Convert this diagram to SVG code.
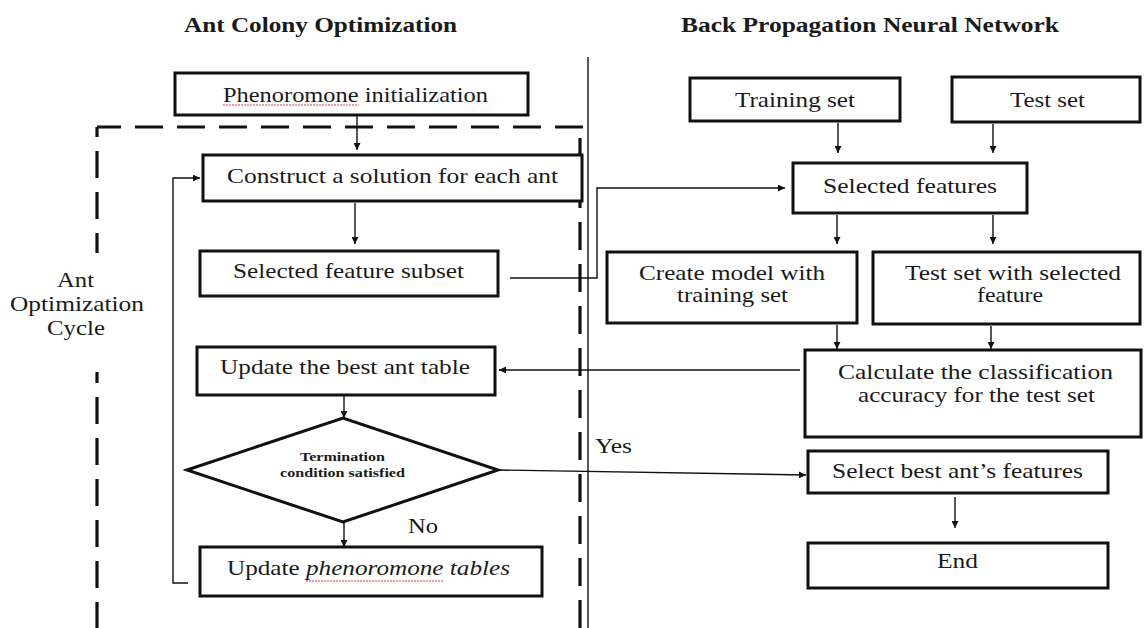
<svg xmlns="http://www.w3.org/2000/svg" width="1144" height="628" viewBox="0 0 1144 628">
<style>
text{font-family:"Liberation Serif","Times New Roman",Tinos,Times,serif;fill:#1a1a1a;}
.t{font-size:21px;}
.h{font-size:21px;font-weight:bold;}
.d{font-size:13px;font-weight:bold;}
.box{fill:#fff;stroke:#111;stroke-width:3;}
.c{fill:none;stroke:#111;stroke-width:1.4;}
.dash{fill:none;stroke:#111;stroke-width:3.2;}
.sp{stroke:#d04040;stroke-width:1.2;stroke-dasharray:2 1;fill:none;}
</style>
<defs>
<marker id="ah" viewBox="0 0 10 10" refX="10" refY="5" markerWidth="9" markerHeight="7" markerUnits="userSpaceOnUse" orient="auto">
<path d="M0,0 L10,5 L0,10 z" fill="#111"/>
</marker>
</defs>
<rect width="1144" height="628" fill="#fff"/>

<g id="titles">
<text class="h" x="184" y="32" textLength="273" lengthAdjust="spacingAndGlyphs">Ant Colony Optimization</text>
<text class="h" x="681" y="32" textLength="378" lengthAdjust="spacingAndGlyphs">Back Propagation Neural Network</text>
</g>

<g id="frame">
<line x1="588" y1="57" x2="588" y2="628" stroke="#444" stroke-width="1.8"/>
<path class="dash" d="M583,127 H97" stroke-dasharray="28 14"/>
<path class="dash" d="M97,127 V628" stroke-dasharray="27 14" stroke-dashoffset="17"/>
<path class="dash" d="M580,127 V628" stroke-dasharray="28 14" stroke-dashoffset="31"/>
</g>

<g id="cycle-label">
<rect x="86" y="253" width="22" height="119" fill="#fff"/>
<text class="t" x="57" y="287" textLength="37" lengthAdjust="spacingAndGlyphs">Ant</text>
<text class="t" x="10" y="311" textLength="134" lengthAdjust="spacingAndGlyphs">Optimization</text>
<text class="t" x="47" y="335" textLength="58" lengthAdjust="spacingAndGlyphs">Cycle</text>
</g>

<g id="connectors">
<line class="c" x1="357" y1="116" x2="357" y2="150" marker-end="url(#ah)"/>
<line class="c" x1="355" y1="203" x2="355" y2="244" marker-end="url(#ah)"/>
<path class="c" d="M510,278 H597 V188 H785" marker-end="url(#ah)"/>
<line class="c" x1="344" y1="396" x2="344" y2="418" marker-end="url(#ah)"/>
<line class="c" x1="344" y1="522" x2="344" y2="547" marker-end="url(#ah)"/>
<path class="c" d="M188,583 H173 V178 H200" marker-end="url(#ah)"/>
<line class="c" x1="838" y1="123" x2="838" y2="153" marker-end="url(#ah)"/>
<line class="c" x1="993" y1="124" x2="993" y2="153" marker-end="url(#ah)"/>
<line class="c" x1="837" y1="215" x2="837" y2="244" marker-end="url(#ah)"/>
<line class="c" x1="993" y1="215" x2="993" y2="244" marker-end="url(#ah)"/>
<line class="c" x1="837" y1="325" x2="837" y2="349" marker-end="url(#ah)"/>
<line class="c" x1="991" y1="326" x2="991" y2="349" marker-end="url(#ah)"/>
<line class="c" x1="800" y1="370" x2="499" y2="370" marker-end="url(#ah)"/>
<line class="c" x1="498" y1="470" x2="806" y2="475" marker-end="url(#ah)"/>
<line class="c" x1="955" y1="497" x2="955" y2="528" marker-end="url(#ah)"/>
<text class="t" x="595" y="453" textLength="37" lengthAdjust="spacingAndGlyphs">Yes</text>
<text class="t" x="408" y="533" textLength="30" lengthAdjust="spacingAndGlyphs">No</text>
</g>

<g id="n-init">
<rect class="box" x="175" y="73" width="353" height="42"/>
<text class="t" x="223" y="102" textLength="265" lengthAdjust="spacingAndGlyphs">Phenoromone initialization</text>
<line class="sp" x1="223" y1="105" x2="359" y2="105"/>
</g>

<g id="n-construct">
<rect class="box" x="203" y="155" width="379" height="46"/>
<text class="t" x="227" y="183" textLength="331" lengthAdjust="spacingAndGlyphs">Construct a solution for each ant</text>
</g>

<g id="n-subset">
<rect class="box" x="200" y="251" width="298" height="45"/>
<text class="t" x="233" y="278" textLength="231" lengthAdjust="spacingAndGlyphs">Selected feature subset</text>
</g>

<g id="n-best-table">
<rect class="box" x="197" y="347" width="298" height="48"/>
<text class="t" x="220" y="374" textLength="250" lengthAdjust="spacingAndGlyphs">Update the best ant table</text>
</g>

<g id="n-termination">
<polygon class="box" points="187,470 343,418 498,470 343,522"/>
<text class="d" x="300" y="461" textLength="85" lengthAdjust="spacingAndGlyphs">Termination</text>
<text class="d" x="280" y="477" textLength="125" lengthAdjust="spacingAndGlyphs">condition satisfied</text>
</g>

<g id="n-update-phero">
<rect class="box" x="200" y="547" width="342" height="49"/>
<text class="t" x="227" y="575" textLength="283" lengthAdjust="spacingAndGlyphs">Update <tspan font-style="italic">phenoromone tables</tspan></text>
<line class="sp" x1="306" y1="581" x2="444" y2="581"/>
</g>

<g id="n-training">
<rect class="box" x="690" y="78" width="210" height="43"/>
<text class="t" x="735" y="107" textLength="120" lengthAdjust="spacingAndGlyphs">Training set</text>
</g>

<g id="n-test">
<rect class="box" x="952" y="77" width="188" height="45"/>
<text class="t" x="1010" y="107" textLength="75" lengthAdjust="spacingAndGlyphs">Test set</text>
</g>

<g id="n-selected">
<rect class="box" x="793" y="163" width="234" height="50"/>
<text class="t" x="823" y="193" textLength="174" lengthAdjust="spacingAndGlyphs">Selected features</text>
</g>

<g id="n-create">
<rect class="box" x="607" y="252" width="250" height="71"/>
<text class="t" x="639" y="280" textLength="186" lengthAdjust="spacingAndGlyphs">Create model with</text>
<text class="t" x="677" y="302" textLength="111" lengthAdjust="spacingAndGlyphs">training set</text>
</g>

<g id="n-testsel">
<rect class="box" x="873" y="252" width="267" height="72"/>
<text class="t" x="905" y="280" textLength="216" lengthAdjust="spacingAndGlyphs">Test set with selected</text>
<text class="t" x="977" y="302" textLength="66" lengthAdjust="spacingAndGlyphs">feature</text>
</g>

<g id="n-calc">
<rect class="box" x="805" y="350" width="336" height="87"/>
<text class="t" x="838" y="379" textLength="275" lengthAdjust="spacingAndGlyphs">Calculate the classification</text>
<text class="t" x="858" y="402" textLength="237" lengthAdjust="spacingAndGlyphs">accuracy for the test set</text>
</g>

<g id="n-select-best">
<rect class="box" x="808" y="451" width="300" height="42"/>
<text class="t" x="832" y="478" textLength="251" lengthAdjust="spacingAndGlyphs">Select best ant’s features</text>
</g>

<g id="n-end">
<rect class="box" x="808" y="543" width="300" height="45"/>
<text class="t" x="937" y="568" textLength="41" lengthAdjust="spacingAndGlyphs">End</text>
</g>
</svg>
